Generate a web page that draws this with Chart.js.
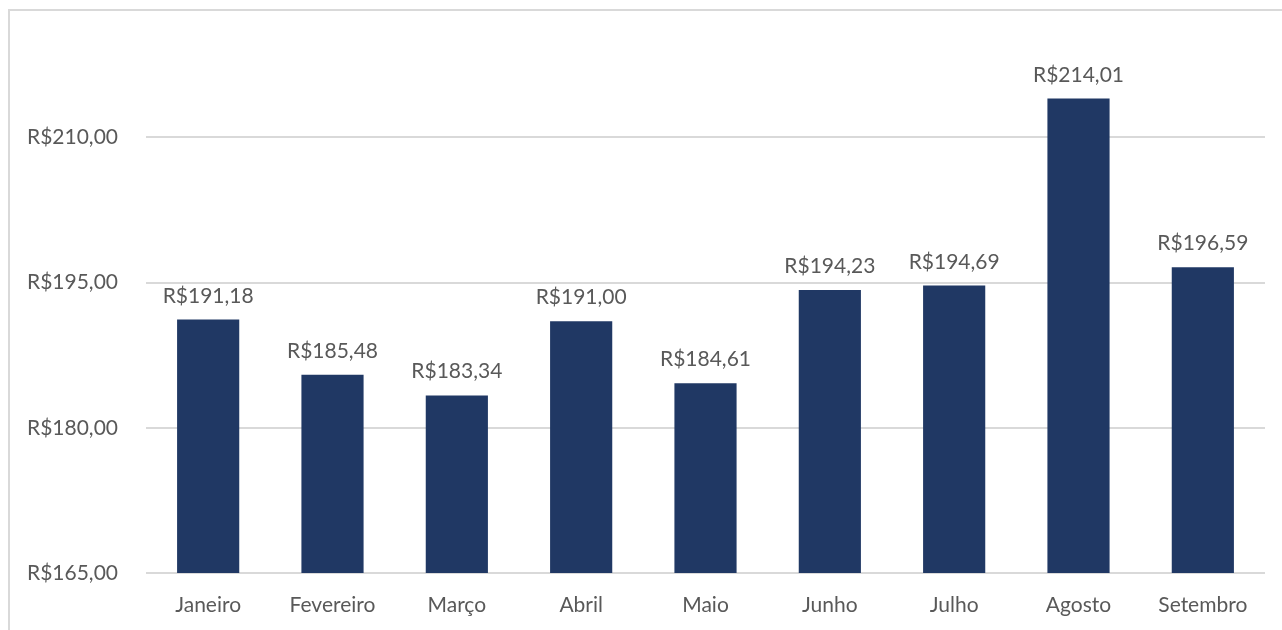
<!DOCTYPE html>
<html>
<head>
<meta charset="utf-8">
<script src="https://cdn.jsdelivr.net/npm/chart.js@4"></script>
<style>
  html, body { margin: 0; padding: 0; background: #fff; overflow: hidden; }
  #frame {
    position: absolute; left: 8px; top: 9px; width: 1300px; height: 640px;
    border: 2px solid #d9d9d9; box-sizing: border-box;
  }
  #wrap { position: absolute; left: 0; top: 0; width: 1282px; height: 630px; }
</style>
</head>
<body>
<div id="frame"></div>
<div id="wrap"><canvas id="precoChart"></canvas></div>
<script>
const months = ["Janeiro", "Fevereiro", "Março", "Abril", "Maio", "Junho", "Julho", "Agosto", "Setembro"];
const prices = [191.18, 185.48, 183.34, 191.00, 184.61, 194.23, 194.69, 214.01, 196.59];
const yTicks = [165, 180, 195, 210];

const fmt = (v) => "R$" + v.toFixed(2).replace(".", ",");
const fontFamily = "Lato, 'Open Sans', sans-serif";
const textColor = "#595959";

// draws the value above each bar (no datalabels plugin available offline)
const valueLabels = {
  id: "valueLabels",
  afterDatasetsDraw(chart) {
    const ctx = chart.ctx;
    const meta = chart.getDatasetMeta(0);
    ctx.save();
    ctx.font = "21px " + fontFamily;
    ctx.fillStyle = textColor;
    ctx.textAlign = "center";
    ctx.textBaseline = "alphabetic";
    meta.data.forEach((bar, i) => {
      ctx.fillText(fmt(prices[i]), bar.x, bar.y - 17);
    });
    ctx.restore();
  },
};

const ctx = document.getElementById("precoChart").getContext("2d");
window.chart1 = new Chart(ctx, {
  type: "bar",
  data: {
    labels: months,
    datasets: [
      {
        data: prices,
        backgroundColor: "#203864",
        borderWidth: 0,
        barPercentage: 0.5,
        categoryPercentage: 1,
      },
    ],
  },
  options: {
    responsive: true,
    maintainAspectRatio: false,
    animation: false,
    layout: { padding: { left: 0, right: 17, top: 0, bottom: 0 } },
    scales: {
      y: {
        min: 165,
        max: 220,
        afterBuildTicks: (axis) => {
          axis.ticks = yTicks.map((v) => ({ value: v }));
        },
        afterFit: (axis) => {
          axis.width = 146;
        },
        grid: { color: "#d9d9d9", lineWidth: 2, drawTicks: false },
        border: { display: false },
        ticks: {
          padding: 28,
          color: textColor,
          font: { family: fontFamily, size: 21 },
          callback: (v) => fmt(v),
        },
      },
      x: {
        afterFit: (axis) => {
          axis.height = 57;
        },
        grid: { display: false, drawTicks: false },
        border: { display: false },
        ticks: {
          padding: 20,
          color: textColor,
          font: { family: fontFamily, size: 21 },
        },
      },
    },
    plugins: {
      legend: { display: false },
      tooltip: { enabled: false },
    },
  },
  plugins: [valueLabels],
});
</script>
</body>
</html>
